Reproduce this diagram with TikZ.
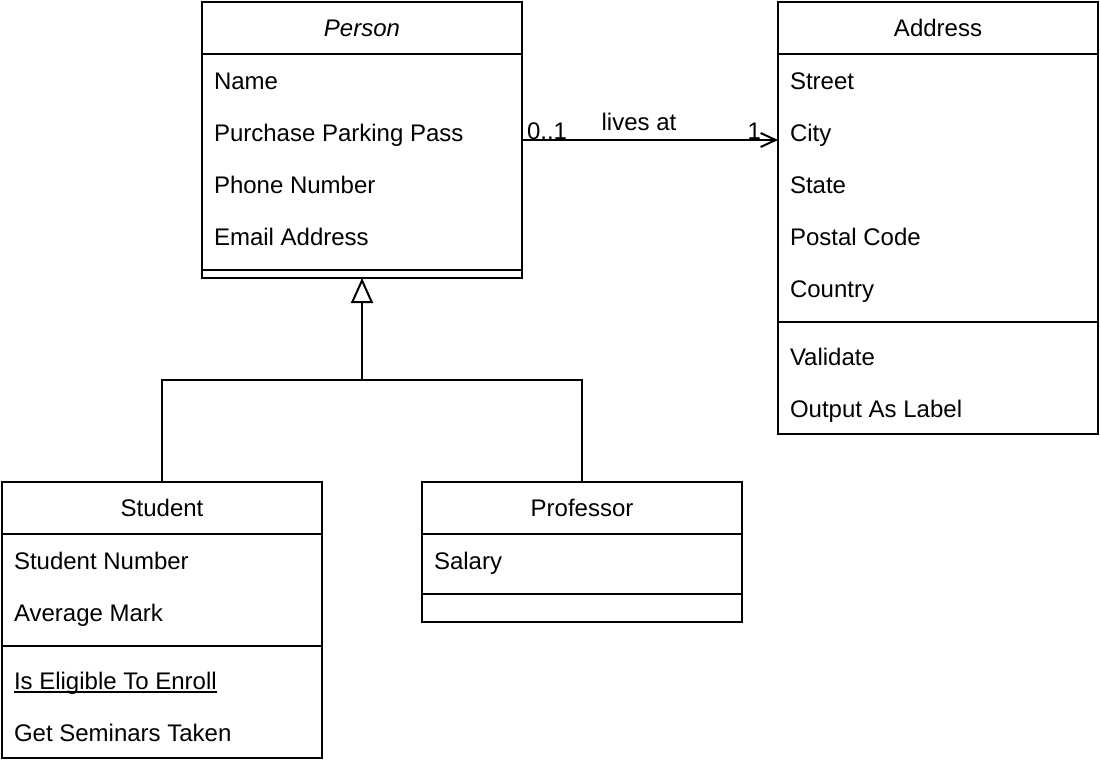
\documentclass[tikz,border=0pt]{standalone}
\usepackage{fontspec}
\setmainfont{Liberation Sans}
\usetikzlibrary{positioning,arrows.meta}

\newcommand{\ultext}[1]{\leavevmode\setbox0\hbox{#1}\rlap{\rule[-1.5pt]{\wd0}{1pt}}\box0}

\begin{document}
\begin{tikzpicture}[
  x=0.5pt,y=-0.5pt,line width=1pt,
  every node/.append style={font=\fontsize{12pt}{14pt}\selectfont},
  classhead/.style={draw,anchor=north west,minimum width=160pt,minimum height=26pt,inner sep=0pt,outer sep=0pt,text height=8.6pt,text depth=0pt},
  compart/.style={draw,anchor=north west,minimum width=160pt,inner sep=0pt,outer sep=0pt},
  member/.style={anchor=west,inner sep=0pt,text height=8.6pt,text depth=0pt},
  multi/.style={inner sep=0pt},
  assoc/.style={-{Straight Barb[length=7.5pt,width=7pt]}},
  inherit/.style={-{Triangle[open,length=12.5pt,width=11pt,fill=white]}}
]
  \useasboundingbox (0,0) rectangle (1101,766);

  % Person
  \node[classhead] (person) at (202,2) {\textit{Person}};
  \node[compart,minimum height=108pt] (person attrs) at (person.south west) {};
  \node[compart,minimum height=4pt] (person ops) at (person attrs.south west) {};
  \foreach \attr [count=\i] in {Name,Purchase Parking Pass,Phone Number,Email Address}
    \node[member] (person-\i) at ([xshift=5.5pt,yshift={12.5pt-26pt*\i}]person attrs.north west) {\attr};

  % Address
  \node[classhead] (address) at (778,2) {Address};
  \node[compart,minimum height=134pt] (address attrs) at (address.south west) {};
  \node[compart,minimum height=56pt] (address ops) at (address attrs.south west) {};
  \foreach \attr [count=\i] in {Street,City,State,Postal Code,Country}
    \node[member] (address-\i) at ([xshift=5.5pt,yshift={12.5pt-26pt*\i}]address attrs.north west) {\attr};
  \foreach \op [count=\i] in {Validate,Output As Label}
    \node[member] (address-op\i) at ([xshift=5.5pt,yshift={8.5pt-26pt*\i}]address ops.north west) {\op};

  % Student
  \node[classhead] (student) at (2,482) {Student};
  \node[compart,minimum height=56pt] (student attrs) at (student.south west) {};
  \node[compart,minimum height=56pt] (student ops) at (student attrs.south west) {};
  \foreach \attr [count=\i] in {Student Number,Average Mark}
    \node[member] (student-\i) at ([xshift=5.5pt,yshift={12.5pt-26pt*\i}]student attrs.north west) {\attr};
  \foreach \op [count=\i] in {\ultext{Is Eligible To Enroll},Get Seminars Taken}
    \node[member] (student-op\i) at ([xshift=5.5pt,yshift={8.5pt-26pt*\i}]student ops.north west) {\op};

  % Professor
  \node[classhead] (professor) at (422,482) {Professor};
  \node[compart,minimum height=30pt] (professor attrs) at (professor.south west) {};
  \node[compart,minimum height=14pt] (professor ops) at (professor attrs.south west) {};
  \node[member] (professor-1) at ([xshift=5.5pt,yshift=-13.5pt]professor attrs.north west) {Salary};

  % association
  \draw[assoc] ([yshift=-43pt]person attrs.north east)
    -- node[multi,pos=0,anchor=base west,xshift=2pt,yshift=0.5pt] (mult-person) {0..1}
       node[multi,midway,anchor=base,xshift=-5.5pt,yshift=5pt] (lives) {lives at}
       node[multi,pos=1,anchor=base east,xshift=-8pt,yshift=0.5pt] (mult-address) {1}
    ([yshift=-43pt]address attrs.north west);

  % generalization
  \coordinate (fork) at (362,380);
  \draw[inherit] (student.north) |- (fork) -- (person ops.south);
  \draw (professor.north) |- (fork);
\end{tikzpicture}
\end{document}
